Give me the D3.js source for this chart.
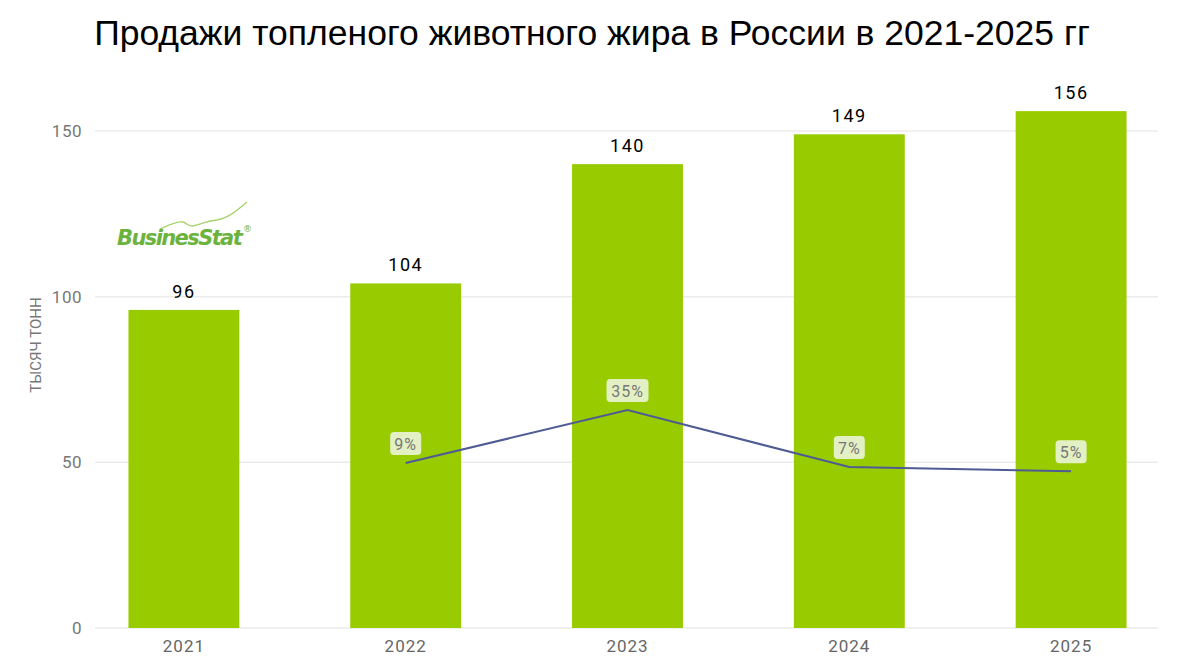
<!DOCTYPE html>
<html>
<head>
<meta charset="utf-8">
<script src="https://cdn.jsdelivr.net/npm/d3@7"></script>
<style>
  body { margin: 0; background: #fff; }
  svg { display: block; }
</style>
</head>
<body>
<svg id="chart" width="1180" height="660"></svg>
<script>
// данные
const years = ['2021', '2022', '2023', '2024', '2025']
const sales = [96, 104, 140, 149, 156]
const growth = [null, 9, 35, 7, 5]
const yTicks = [0, 50, 100, 150]

const svg = d3.select('#chart')

const x = d3.scaleBand().domain(years).range([73, 1182]).paddingInner(0.5).paddingOuter(0.25)
const y = d3.scaleLinear().domain([0, 150]).range([628, 131])
// скрытая шкала для процентов прироста
const y2 = d3.scaleLinear().domain([-72, 172]).range([628, 131])

// заголовок
svg.append('text')
  .attr('x', 592)
  .attr('y', 45)
  .attr('text-anchor', 'middle')
  .style('font-family', 'Liberation Sans, Arial, sans-serif')
  .style('font-size', '35.5px')
  .style('fill', '#000')
  .text('Продажи топленого животного жира в России в 2021-2025 гг')

// сетка
svg.append('g')
  .selectAll('line')
  .data(yTicks)
  .enter()
  .append('line')
  .attr('x1', 95)
  .attr('x2', 1158)
  .attr('y1', d => y(d))
  .attr('y2', d => y(d))
  .style('stroke', '#ebebeb')
  .style('stroke-width', 1.5)

// ось Y
const yAxis = svg.append('g')
  .attr('transform', 'translate(88,0)')
  .call(d3.axisLeft(y).tickValues(yTicks).tickSize(0).tickPadding(6))
yAxis.select('.domain').remove()
yAxis.selectAll('text')
  .style('font-family', 'Roboto, sans-serif')
  .style('font-size', '17px')
  .style('letter-spacing', '0.5px')
  .style('fill', '#777')

svg.append('text')
  .attr('transform', 'translate(41,345) rotate(-90)')
  .attr('text-anchor', 'middle')
  .style('font-family', 'Roboto, sans-serif')
  .style('font-size', '15px')
  .style('fill', '#777')
  .text('ТЫСЯЧ ТОНН')

// ось X
const xAxis = svg.append('g')
  .attr('transform', 'translate(0,628)')
  .call(d3.axisBottom(x).tickSize(0).tickPadding(12))
xAxis.select('.domain').remove()
xAxis.selectAll('text')
  .style('font-family', 'Roboto, sans-serif')
  .style('font-size', '17px')
  .style('letter-spacing', '1px')
  .style('fill', '#666')

// столбцы
svg.append('g')
  .selectAll('rect')
  .data(sales)
  .enter()
  .append('rect')
  .attr('x', (d, i) => x(years[i]))
  .attr('width', x.bandwidth())
  .attr('y', d => y(d))
  .attr('height', d => y(0) - y(d))
  .style('fill', '#99cc00')

svg.append('g')
  .selectAll('text')
  .data(sales)
  .enter()
  .append('text')
  .attr('x', (d, i) => x(years[i]) + x.bandwidth() / 2)
  .attr('y', d => y(d) - 12)
  .attr('text-anchor', 'middle')
  .style('font-family', 'Roboto, sans-serif')
  .style('font-size', '18px')
  .style('letter-spacing', '1.5px')
  .style('fill', '#000')
  .text(d => d)

// линия прироста
const pts = growth
  .map((g, i) => ({ g, year: years[i] }))
  .filter(d => d.g !== null)

const line = d3.line()
  .x(d => x(d.year) + x.bandwidth() / 2)
  .y(d => y2(d.g))

svg.append('path')
  .datum(pts)
  .attr('d', line)
  .style('fill', 'none')
  .style('stroke', '#4f5b93')
  .style('stroke-width', 2)

const lbl = svg.append('g')
  .selectAll('g')
  .data(pts)
  .enter()
  .append('g')
  .attr('transform', d => `translate(${x(d.year) + x.bandwidth() / 2},${y2(d.g) - 19})`)

lbl.append('rect')
  .attr('x', d => -(String(d.g).length * 11 + 20) / 2)
  .attr('y', -12)
  .attr('width', d => String(d.g).length * 11 + 20)
  .attr('height', 23)
  .attr('rx', 4)
  .style('fill', '#e3f0c4')

lbl.append('text')
  .attr('y', 6)
  .attr('text-anchor', 'middle')
  .style('font-family', 'Roboto, sans-serif')
  .style('font-size', '16px')
  .style('letter-spacing', '1px')
  .style('fill', '#777')
  .text(d => d.g + '%')

// логотип
const logo = svg.append('g').attr('transform', 'translate(117,245)')
logo.append('path')
  .attr('d', 'M43,-16 C52,-20 60,-24 66,-23 C70,-22 72,-18 76,-19 C84,-21 90,-24 100,-25 C112,-27 122,-36 130,-43')
  .style('fill', 'none')
  .style('stroke', '#a6d36a')
  .style('stroke-width', 1.3)
logo.append('text')
  .attr('x', 0)
  .attr('y', 0)
  .style('font-family', 'DejaVu Sans, sans-serif')
  .style('font-size', '21px')
  .style('font-weight', 'bold')
  .style('font-style', 'italic')
  .style('letter-spacing', '-1.6px')
  .style('fill', '#6cb33e')
  .text('BusinesStat')
logo.append('text')
  .attr('x', 126)
  .attr('y', -13)
  .style('font-family', 'DejaVu Sans, sans-serif')
  .style('font-size', '9px')
  .style('fill', '#6cb33e')
  .text('®')
</script>
</body>
</html>
